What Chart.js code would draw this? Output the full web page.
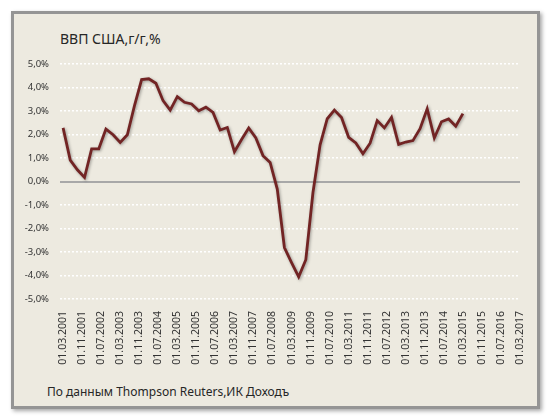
<!DOCTYPE html>
<html>
<head>
<meta charset="utf-8">
<script src="https://cdn.jsdelivr.net/npm/chart.js@4"></script>
<style>
  html, body { margin: 0; padding: 0; background: #ffffff; }
  #wrap { position: relative; width: 550px; height: 418px; overflow: hidden; }
  #box {
    position: absolute; left: 11px; top: 11px; width: 523px; height: 392px;
    background: #edeae0; border: 3px solid #959595;
    box-shadow: 2px 2px 4px rgba(0, 0, 0, 0.35);
  }
  #title {
    position: absolute; left: 60px; top: 29px;
    font-family: "Noto Sans", sans-serif; font-size: 14px; color: #262626;
  }
  #source {
    position: absolute; left: 47px; top: 383px;
    font-family: "Noto Sans", sans-serif; font-size: 12px; color: #262626;
  }
  canvas { position: absolute; left: 0; top: 0; }
</style>
</head>
<body>
<div id="wrap">
  <div id="box"></div>
  <div id="title">ВВП США,г/г,%</div>
  <div id="source">По данным Thompson Reuters,ИК Доходъ</div>
  <canvas id="myChart" width="550" height="418"></canvas>
</div>
<script>
// quarterly US GDP, % y/y, 01.03.2001 .. 01.03.2015
const gdpValues = [
    2.28, 0.91, 0.50, 0.17,
    1.39, 1.39, 2.23, 1.99,
    1.66, 1.99, 3.23, 4.34,
    4.37, 4.18, 3.44, 3.04,
    3.61, 3.37, 3.30, 3.01,
    3.16, 2.94, 2.19, 2.30,
    1.27, 1.79, 2.28, 1.85,
    1.10, 0.81, -0.32, -2.81,
    -3.45, -4.06, -3.33, -0.47,
    1.56, 2.67, 3.04, 2.72,
    1.88, 1.64, 1.18, 1.63,
    2.59, 2.28, 2.73, 1.58,
    1.68, 1.74, 2.25, 3.09,
    1.85, 2.54, 2.66, 2.35,
    2.89,
];

// x axis labels, one every 8 months from 01.03.2001
const tickLabels = [
    "01.03.2001", "01.11.2001", "01.07.2002", "01.03.2003", "01.11.2003",
    "01.07.2004", "01.03.2005", "01.11.2005", "01.07.2006", "01.03.2007",
    "01.11.2007", "01.07.2008", "01.03.2009", "01.11.2009", "01.07.2010",
    "01.03.2011", "01.11.2011", "01.07.2012", "01.03.2013", "01.11.2013",
    "01.07.2014", "01.03.2015", "01.11.2015", "01.07.2016", "01.03.2017",
];

const monthsPerPoint = 3;
const monthsPerTick = 8;

const points = gdpValues.map((v, i) => ({ x: i * monthsPerPoint, y: v }));

const lineShadow = {
    id: "lineShadow",
    beforeDatasetsDraw(chart) {
        const ctx = chart.ctx;
        ctx.save();
        ctx.shadowColor = "rgba(0, 0, 0, 0.35)";
        ctx.shadowBlur = 3;
        ctx.shadowOffsetX = 1;
        ctx.shadowOffsetY = 1;
    },
    afterDatasetsDraw(chart) {
        chart.ctx.restore();
    },
};

const config = {
    type: "line",
    data: {
        datasets: [
            {
                data: points,
                borderColor: "#722424",
                borderWidth: 2.8,
                pointRadius: 0,
                tension: 0,
            },
        ],
    },
    plugins: [lineShadow],
    options: {
        responsive: false,
        animation: false,
        layout: { padding: { left: 0, top: 64, right: 30, bottom: 49 } },
        plugins: {
            legend: { display: false },
            tooltip: { enabled: false },
        },
        scales: {
            x: {
                type: "linear",
                min: -1.3,
                max: (tickLabels.length - 1) * monthsPerTick,
                afterBuildTicks: (axis) => {
                    axis.ticks = tickLabels.map((t, k) => ({ value: k * monthsPerTick }));
                },
                afterFit: (axis) => { axis.height = 70; },
                grid: { display: false, drawTicks: false },
                border: { display: false },
                ticks: {
                    autoSkip: false,
                    minRotation: 90,
                    maxRotation: 90,
                    padding: 12,
                    color: "#333333",
                    font: { family: "Noto Sans", size: 10.5 },
                    callback: (v, i) => tickLabels[i],
                },
            },
            y: {
                min: -5,
                max: 5,
                afterFit: (axis) => { axis.width = 60; },
                grid: {
                    drawTicks: false,
                    color: (c) => (c.tick && c.tick.value === 0 ? "#a8a8a8" : "#ffffff"),
                    lineWidth: (c) => (c.tick && c.tick.value === 0 ? 2 : 1.5),
                },
                border: {
                    display: false,
                    dash: (c) => (c.tick && c.tick.value === 0 ? [] : [2, 2]),
                },
                ticks: {
                    stepSize: 1,
                    padding: 11,
                    color: "#333333",
                    font: { family: "Noto Sans", size: 9.5 },
                    callback: (v) => v.toFixed(1).replace(".", ",") + "%",
                },
            },
        },
    },
};

const myChart = new Chart(document.querySelector("#myChart"), config);
</script>
</body>
</html>
